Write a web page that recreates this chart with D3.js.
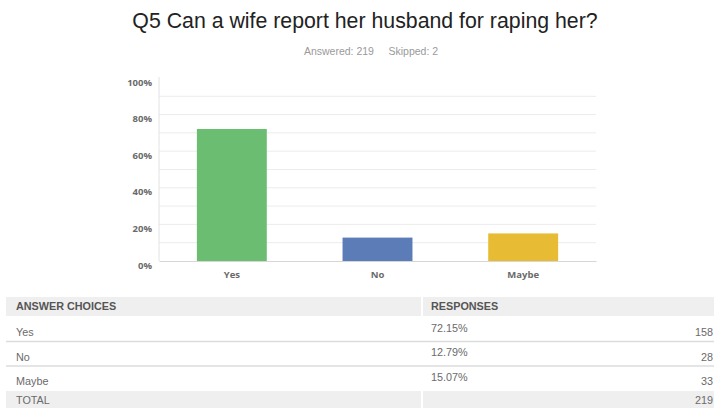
<!DOCTYPE html>
<html>
<head>
<meta charset="utf-8">
<script src="https://cdn.jsdelivr.net/npm/d3@7"></script>
<style>
  body { margin: 0; background: #fff; }
  svg { display: block; }
</style>
</head>
<body>
<script>
// survey data
const choices = ['Yes', 'No', 'Maybe'];
const percents = [72.15, 12.79, 15.07];
const counts = [158, 28, 33];
const total = 219;
const skipped = 2;
const yTicks = [0, 20, 40, 60, 80, 100];
const gridTicks = [10, 20, 30, 40, 50, 60, 70, 80, 90];
const colors = ['#6bbd72', '#5b7cb7', '#e8bb34'];

const W = 714, H = 408;
const plot = {left: 159, right: 596, top: 78, bottom: 261};

const svg = d3.select('body').append('svg')
  .attr('width', W)
  .attr('height', H);

// title + answered/skipped line
svg.append('text')
  .attr('x', 365).attr('y', 28)
  .attr('text-anchor', 'middle')
  .style('font-family', '"Liberation Sans", Arial, sans-serif')
  .style('font-size', '21.3px')
  .style('fill', '#222')
  .text('Q5 Can a wife report her husband for raping her?');

svg.append('text')
  .attr('x', 371).attr('y', 55)
  .attr('text-anchor', 'middle')
  .style('font-family', '"Liberation Sans", Arial, sans-serif')
  .style('font-size', '10.5px')
  .style('fill', '#9a9a9a')
  .style('white-space', 'pre')
  .text(`Answered: ${total}     Skipped: ${skipped}`);

const x = d3.scaleBand()
  .domain(choices)
  .range([plot.left, plot.right])
  .paddingInner(0.52)
  .paddingOuter(0.26);

const y = d3.scaleLinear()
  .domain([0, 100])
  .range([plot.bottom, plot.top]);

// light gridlines every 10%
svg.append('g')
  .selectAll('line')
  .data(gridTicks)
  .enter().append('line')
  .attr('x1', plot.left).attr('x2', plot.right)
  .attr('y1', d => y(d)).attr('y2', d => y(d))
  .attr('stroke', '#ececec')
  .attr('stroke-width', 1);

// y axis
const yAxis = svg.append('g')
  .attr('transform', `translate(${plot.left},0)`)
  .call(d3.axisLeft(y).tickValues(yTicks).tickSize(0).tickPadding(7).tickFormat(d => d + '%'));
yAxis.select('.domain').attr('stroke', '#e2e2e2').attr('d', `M0,${plot.top - 1}V${plot.bottom}`);
yAxis.selectAll('text')
  .attr('dy', '7px')
  .style('font-family', '"Open Sans", sans-serif')
  .style('font-weight', '700')
  .style('font-size', '9.5px')
  .style('fill', '#6a6a6a');

// bars
svg.append('g')
  .selectAll('rect')
  .data(choices)
  .enter().append('rect')
  .attr('x', d => x(d))
  .attr('width', x.bandwidth())
  .attr('y', (d, i) => y(percents[i]))
  .attr('height', (d, i) => y(0) - y(percents[i]))
  .attr('fill', (d, i) => colors[i]);

// x axis
const xAxis = svg.append('g')
  .attr('transform', `translate(0,${plot.bottom})`)
  .call(d3.axisBottom(x).tickSize(0).tickPadding(10));
xAxis.select('.domain').attr('stroke', '#d6d6d6');
xAxis.selectAll('text')
  .style('font-family', '"Open Sans", sans-serif')
  .style('font-weight', '700')
  .style('font-size', '9.5px')
  .style('fill', '#6a6a6a');

// summary table
const tbl = svg.append('g')
  .style('font-family', '"Liberation Sans", Arial, sans-serif')
  .style('font-size', '10.8px');

const tableLeft = 6, colDiv = 422, tableRight = W;
const headY = 297, rowH = 24.5;

tbl.append('rect').attr('x', tableLeft).attr('y', headY).attr('width', colDiv - tableLeft - 1).attr('height', 19).attr('fill', '#efefef');
tbl.append('rect').attr('x', colDiv + 1).attr('y', headY).attr('width', tableRight - colDiv - 1).attr('height', 19).attr('fill', '#efefef');
tbl.append('text').attr('x', 16).attr('y', 310).style('font-weight', '700').style('fill', '#555').text('ANSWER CHOICES');
tbl.append('text').attr('x', 431).attr('y', 310).style('font-weight', '700').style('fill', '#555').text('RESPONSES');

choices.forEach((c, i) => {
  const cy = 332 + i * rowH;
  tbl.append('text').attr('x', 16).attr('y', cy + 4).style('fill', '#6a6a6a').text(c);
  tbl.append('text').attr('x', 431).attr('y', cy - 0.5).style('fill', '#6a6a6a').text(percents[i].toFixed(2) + '%');
  tbl.append('text').attr('x', 713).attr('y', cy + 4).attr('text-anchor', 'end').style('fill', '#6a6a6a').text(counts[i]);
  if (i < choices.length - 1) {
    tbl.append('line')
      .attr('x1', tableLeft).attr('x2', tableRight)
      .attr('y1', cy + 9.5).attr('y2', cy + 9.5)
      .attr('stroke', '#dcdcdc').attr('stroke-width', 1.5);
  }
});

tbl.append('rect').attr('x', tableLeft).attr('y', 391).attr('width', colDiv - tableLeft - 1).attr('height', 17).attr('fill', '#efefef');
tbl.append('rect').attr('x', colDiv + 1).attr('y', 391).attr('width', tableRight - colDiv - 1).attr('height', 17).attr('fill', '#efefef');
tbl.append('text').attr('x', 16).attr('y', 404).style('fill', '#6a6a6a').text('TOTAL');
tbl.append('text').attr('x', 713).attr('y', 404).attr('text-anchor', 'end').style('fill', '#6a6a6a').text(total);
</script>
</body>
</html>
